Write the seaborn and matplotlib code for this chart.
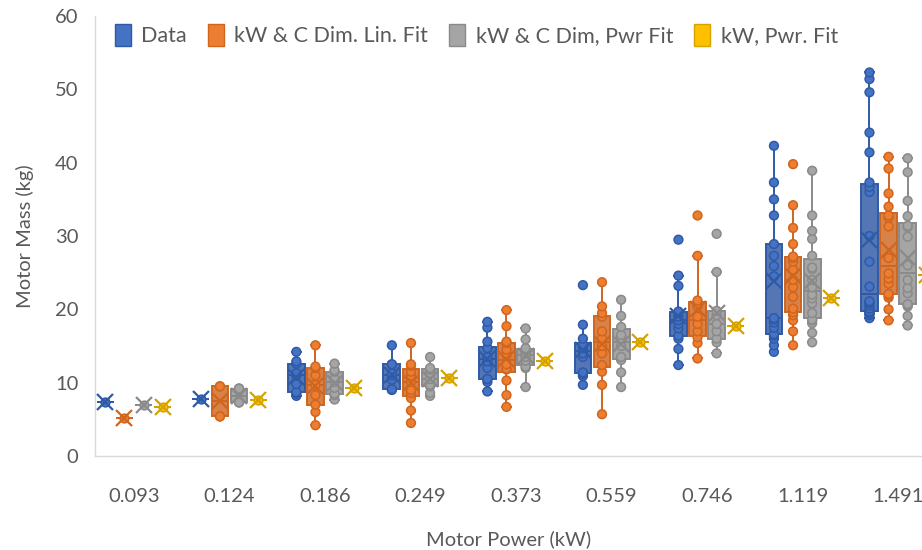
import numpy as np
import pandas as pd
import seaborn as sns
import matplotlib.pyplot as plt
from matplotlib.patches import Patch

# Motor power categories (kW) and the four estimate series
power = ["0.093", "0.124", "0.186", "0.249", "0.373", "0.559", "0.746", "1.119", "1.491"]
series = ["Data", "kW & C Dim. Lin. Fit", "kW & C Dim, Pwr Fit", "kW, Pwr. Fit"]

# Motor masses (kg) per power category
data_mass = [
    [7.4],
    [7.8],
    [8.2, 8.5, 8.7, 9.8, 11.0, 11.3, 12.6, 12.9, 14.2],
    [9.0, 9.1, 9.1, 10.4, 11.0, 11.3, 12.5, 12.5, 15.1],
    [8.8, 10.1, 10.5, 10.5, 12.0, 12.9, 13.5, 14.7, 14.7, 15.6, 17.5, 18.3],
    [9.7, 10.9, 11.2, 11.4, 13.5, 14.0, 14.7, 15.0, 15.2, 16.0, 17.9, 23.3],
    [12.4, 14.6, 16.0, 16.4, 17.4, 18.0, 18.5, 19.0, 19.5, 19.7, 23.2, 24.6, 29.5],
    [14.2, 15.1, 16.0, 16.4, 16.6, 17.5, 18.2, 18.6, 18.8, 24.5, 25.9, 27.3, 28.9,
     32.8, 35.0, 37.3, 42.3],
    [18.8, 19.2, 19.4, 19.5, 19.6, 19.7, 20.1, 20.5, 20.8, 21.0, 21.1, 23.1, 26.5,
     30.0, 36.0, 36.7, 37.3, 41.4, 44.1, 49.6, 51.4, 52.3],
]
lin_fit = [
    [5.2],
    [5.4, 5.4, 9.5, 9.5],
    [4.2, 6.0, 7.0, 8.3, 9.7, 11.0, 12.0, 12.2, 15.1],
    [4.5, 6.2, 7.9, 8.6, 9.0, 10.1, 11.0, 11.5, 12.3, 12.5, 15.4],
    [6.7, 8.3, 10.3, 11.8, 11.9, 12.5, 13.8, 14.5, 15.4, 15.6, 17.7, 19.9],
    [5.7, 9.7, 11.5, 12.4, 14.0, 15.0, 16.0, 17.0, 19.0, 19.5, 20.4, 23.7],
    [13.3, 15.4, 16.2, 17.0, 18.0, 19.0, 20.4, 21.2, 27.3, 32.8],
    [15.1, 17.0, 18.5, 19.2, 19.6, 20.1, 21.7, 23.0, 24.0, 25.4, 26.5, 27.0, 27.2,
     28.9, 31.1, 34.2, 39.8],
    [18.5, 20.0, 21.6, 21.9, 22.1, 23.5, 24.2, 24.9, 27.0, 31.3, 32.5, 32.8, 34.0,
     35.8, 39.2, 40.8],
]
pwr_fit = [
    [7.0],
    [7.3, 7.3, 9.2, 9.2],
    [7.7, 8.3, 8.5, 9.3, 10.1, 10.5, 11.5, 11.7, 12.6],
    [8.2, 8.6, 9.5, 9.7, 10.5, 11.3, 11.8, 12.0, 13.5],
    [9.4, 12.0, 12.2, 13.0, 13.5, 14.0, 14.5, 14.7, 15.9, 17.4],
    [9.4, 11.4, 13.1, 13.5, 15.0, 16.0, 16.5, 17.6, 19.1, 21.3],
    [14.0, 15.5, 16.0, 17.0, 18.0, 19.2, 19.8, 25.1, 30.3],
    [15.5, 16.8, 18.1, 18.5, 18.6, 19.5, 20.8, 21.5, 22.0, 23.0, 24.0, 25.5, 25.7,
     27.3, 29.6, 30.7, 32.8, 38.9],
    [17.8, 19.1, 20.4, 20.6, 20.7, 22.2, 22.9, 24.0, 26.0, 29.9, 31.2, 31.4, 32.7,
     34.8, 38.7, 40.6],
]
kw_fit = [[6.7], [7.6], [9.3], [10.6], [12.9], [15.6], [17.7], [21.5], [24.7]]

fills = ["#4472C4", "#ED7D31", "#A5A5A5", "#FFC000"]
edges = ["#2F5AA6", "#D0651E", "#8A8A8A", "#D4A300"]
text_col = "#595959"

rows = []
for name, groups in zip(series, [data_mass, lin_fit, pwr_fit, kw_fit]):
    for p, vals in zip(power, groups):
        for v in vals:
            rows.append((p, name, v))
df = pd.DataFrame(rows, columns=["power", "series", "mass"])

plt.rcParams["font.family"] = ["Lato", "DejaVu Sans"]

fig = plt.figure(figsize=(9.22, 5.5), dpi=100)
ax = fig.add_axes([95 / 922, 94 / 550, 827 / 922, 440 / 550])

pal = dict(zip(series, fills))
for name, fill, edge in zip(series, fills, edges):
    sub = df[df["series"] == name]
    sns.boxplot(
        data=sub, x="power", y="mass", hue="series", order=power, hue_order=series,
        palette=pal, linecolor=edge, linewidth=1.4, width=0.8, gap=0.12, dodge=True,
        showfliers=False, whis=1.5, showmeans=True,
        meanprops=dict(marker="x", markeredgecolor=edge, markerfacecolor=edge,
                       markersize=11, markeredgewidth=1.6, zorder=6),
        legend=False, ax=ax,
    )
    sns.stripplot(
        data=sub, x="power", y="mass", hue="series", order=power, hue_order=series,
        palette=pal, dodge=True, jitter=False, size=6.3, linewidth=1.1,
        edgecolor=edge, legend=False, ax=ax, zorder=4,
    )

ax.set_xlim(-0.408, 8.25)
ax.set_ylim(0, 60)
ax.set_yticks(range(0, 61, 10))
ax.tick_params(axis="both", length=0, labelsize=14.5, colors=text_col)
ax.tick_params(axis="x", pad=23)
ax.tick_params(axis="y", pad=12)
for s in ["top", "right"]:
    ax.spines[s].set_visible(False)
for s in ["left", "bottom"]:
    ax.spines[s].set_color("#D9D9D9")
    ax.spines[s].set_linewidth(1.0)
ax.grid(False)
ax.set_xlabel("Motor Power (kW)", fontsize=14.5, color=text_col, labelpad=18)
ax.set_ylabel("Motor Mass (kg)", fontsize=14.5, color=text_col, labelpad=15)

handles = [Patch(facecolor=f, edgecolor=e, linewidth=1) for f, e in zip(fills, edges)]
ax.legend(handles, series, loc="upper left", bbox_to_anchor=(0.008, 1.012), ncol=4,
          frameon=False, handlelength=0.75, handleheight=1.2, handletextpad=0.5,
          columnspacing=0.95, fontsize=15.5, labelcolor=text_col, borderaxespad=0.2)

fig.savefig("out.png", dpi=100)
